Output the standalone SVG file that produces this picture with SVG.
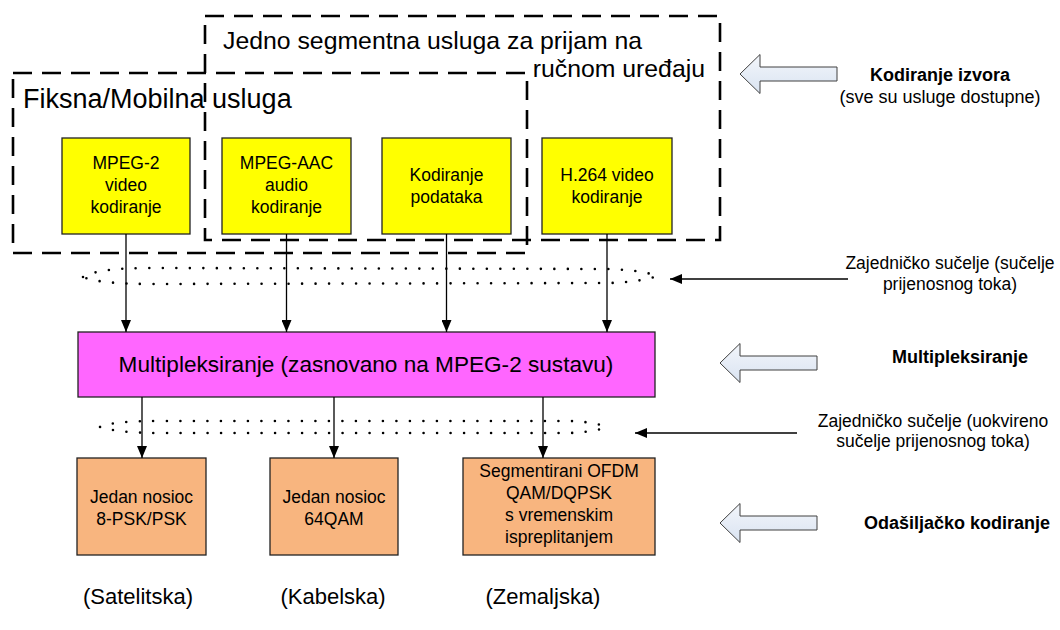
<svg xmlns="http://www.w3.org/2000/svg" width="1060" height="630" viewBox="0 0 1060 630">
<style>
text{font-family:"Liberation Sans",Arial,sans-serif;fill:#000}
.dash{fill:none;stroke:#000;stroke-width:2.6;stroke-dasharray:19 10}
.yb{fill:#FFFF00;stroke:#222;stroke-width:1.3}
.ob{fill:#F8B57F;stroke:#222;stroke-width:1.3}
.pk{fill:#FF66FF;stroke:#222;stroke-width:1.3}
.t17{font-size:17.5px;text-anchor:middle}
.t18{font-size:18px;text-anchor:middle}
.b18{font-size:18px;font-weight:bold;text-anchor:middle}
.lbl{font-size:22px;text-anchor:middle}
.con{stroke:#000;stroke-width:1.3;fill:none;marker-end:url(#ah)}
.dot{fill:none;stroke:#000;stroke-width:2.6;stroke-linecap:round;stroke-dasharray:0 13.5}
.blk{fill:url(#bg);stroke:#404040;stroke-width:1}
</style>
<defs>
<marker id="ah" viewBox="0 0 12 10" refX="12" refY="5" markerWidth="12" markerHeight="10" markerUnits="userSpaceOnUse" orient="auto">
<path d="M0,0 L12,5 L0,10 Z" fill="#000"/>
</marker>
<linearGradient id="bg" x1="0" y1="0" x2="0" y2="1">
<stop offset="0" stop-color="#F3F6FB"/>
<stop offset="1" stop-color="#D9E3F1"/>
</linearGradient>
</defs>
<rect width="1060" height="630" fill="#fff"/>

<g id="region-jedno">
<rect class="dash" x="205" y="16" width="515" height="224"/>
<text x="223" y="49" font-size="24.8">Jedno segmentna usluga za prijam na</text>
<text x="705" y="77" font-size="24.8" text-anchor="end">ručnom uređaju</text>
</g>
<g id="region-fiksna">
<rect class="dash" x="13" y="73" width="514" height="180"/>
<text x="23" y="108" font-size="27">Fiksna/Mobilna usluga</text>
</g>

<g id="mpeg2">
<rect class="yb" x="62" y="138" width="128" height="96"/>
<text class="t17" x="126" y="169">MPEG-2</text>
<text class="t17" x="126" y="191">video</text>
<text class="t17" x="126" y="213">kodiranje</text>
</g>
<g id="aac">
<rect class="yb" x="222" y="138" width="129" height="96"/>
<text class="t17" x="286.5" y="169">MPEG-AAC</text>
<text class="t17" x="286.5" y="191">audio</text>
<text class="t17" x="286.5" y="213">kodiranje</text>
</g>
<g id="podaci">
<rect class="yb" x="382" y="138" width="129" height="96"/>
<text class="t17" x="446.5" y="181">Kodiranje</text>
<text class="t17" x="446.5" y="203">podataka</text>
</g>
<g id="h264">
<rect class="yb" x="542" y="138" width="130" height="96"/>
<text class="t17" x="607" y="181">H.264 video</text>
<text class="t17" x="607" y="203">kodiranje</text>
</g>

<g id="mux">
<rect class="pk" x="78" y="332" width="577" height="65"/>
<text x="366" y="372" font-size="22.6" text-anchor="middle">Multipleksiranje (zasnovano na MPEG-2 sustavu)</text>
</g>

<g id="sat">
<rect class="ob" x="77" y="458" width="129" height="97"/>
<text class="t17" x="141.5" y="503">Jedan nosioc</text>
<text class="t17" x="141.5" y="525">8-PSK/PSK</text>
</g>
<g id="kab">
<rect class="ob" x="270" y="458" width="128" height="97"/>
<text class="t17" x="334" y="503">Jedan nosioc</text>
<text class="t17" x="334" y="525">64QAM</text>
</g>
<g id="zem">
<rect class="ob" x="463" y="458" width="192" height="97"/>
<text class="t17" x="559" y="477">Segmentirani OFDM</text>
<text class="t17" x="559" y="499">QAM/DQPSK</text>
<text class="t17" x="559" y="521">s vremenskim</text>
<text class="t17" x="559" y="543">ispreplitanjem</text>
</g>

<g id="interfaces">
<path class="dot" d="M83,277 C95,270 120,268 150,268 L610,269 C635,270 650,273 657,276 C650,279 635,282 610,283 L150,284 C120,284 95,282 83,277 Z"/>
<path class="dot" d="M100,427 C112,422 132,421 160,421 L570,421 C590,422 600,424 605,427 C600,430 590,432 570,433 L160,433 C132,433 112,431 100,427 Z"/>
</g>

<g id="connectors">
<line class="con" x1="126" y1="234" x2="126" y2="332"/>
<line class="con" x1="286.5" y1="234" x2="286.5" y2="332"/>
<line class="con" x1="446.5" y1="234" x2="446.5" y2="332"/>
<line class="con" x1="607" y1="234" x2="607" y2="332"/>
<line class="con" x1="142" y1="397" x2="142" y2="458"/>
<line class="con" x1="334" y1="397" x2="334" y2="458"/>
<line class="con" x1="543" y1="397" x2="543" y2="458"/>
<line class="con" x1="848" y1="279" x2="670" y2="279"/>
<line class="con" x1="797" y1="433" x2="635" y2="433"/>
</g>

<g id="label-izvor">
<path class="blk" d="M740,74 L760,54.5 L760,67 L837,67 L837,81 L760,81 L760,93.5 Z"/>
<text class="b18" x="940" y="81">Kodiranje izvora</text>
<text class="t18" x="940" y="103">(sve su usluge dostupne)</text>
</g>
<g id="label-suc1">
<text class="t17" x="950" y="269">Zajedničko sučelje (sučelje</text>
<text class="t17" x="950" y="290">prijenosnog toka)</text>
</g>
<g id="label-mux">
<path class="blk" d="M720,363 L740,343.5 L740,356 L817,356 L817,370 L740,370 L740,382.5 Z"/>
<text class="b18" x="960" y="363">Multipleksiranje</text>
</g>
<g id="label-suc2">
<text class="t17" x="933" y="427">Zajedničko sučelje (uokvireno</text>
<text class="t17" x="933" y="447">sučelje prijenosnog toka)</text>
</g>
<g id="label-odas">
<path class="blk" d="M720,523 L740,503.5 L740,516 L817,516 L817,530 L740,530 L740,542.5 Z"/>
<text class="b18" x="957" y="529">Odašiljačko kodiranje</text>
</g>

<g id="bottom-labels">
<text class="lbl" x="138" y="604">(Satelitska)</text>
<text class="lbl" x="333" y="604">(Kabelska)</text>
<text class="lbl" x="543" y="604">(Zemaljska)</text>
</g>
</svg>
